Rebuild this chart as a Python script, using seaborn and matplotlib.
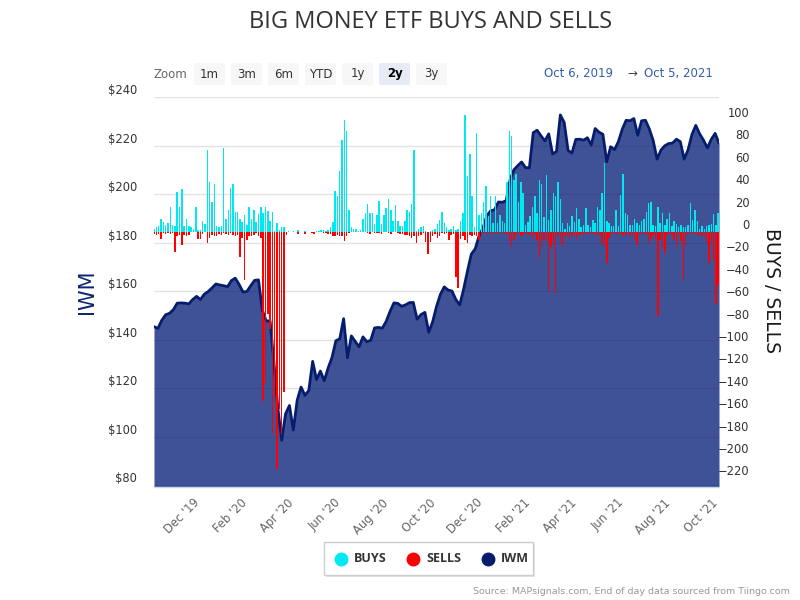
import numpy as np
import pandas as pd
import matplotlib
matplotlib.use("Agg")
import matplotlib.pyplot as plt
from matplotlib.patches import FancyBboxPatch, Rectangle
from matplotlib.lines import Line2D
from matplotlib.transforms import IdentityTransform
import seaborn as sns

# ---------------- data ----------------
START = "2019-10-06"
END = "2021-10-05"

# IWM close, sampled every 5 calendar days from START
iwm_price = [
    145.3, 144.6, 147.9, 150.2, 150.8, 152.3, 155.0, 155.1, 155.0, 154.7,
    156.5, 157.8, 156.5, 158.7, 159.8, 161.3, 162.9, 162.5, 162.2, 161.8,
    164.3, 165.3, 162.7, 159.6, 159.8, 162.2, 164.4, 164.6, 152.0, 147.7,
    147.6, 130.4, 111.8, 98.5, 109.4, 112.8, 102.7, 115.0, 120.4, 117.0,
    119.0, 131.0, 123.5, 127.0, 123.0, 128.3, 132.6, 139.5, 140.3, 148.6,
    132.5, 141.5, 139.2, 137.0, 141.1, 139.1, 139.7, 144.8, 145.0, 144.7,
    147.5, 151.6, 155.1, 154.9, 153.7, 154.3, 155.2, 155.3, 148.4, 150.3,
    151.2, 143.0, 147.3, 153.6, 158.6, 161.7, 160.4, 160.0, 156.5, 154.3,
    160.7, 168.2, 175.2, 177.4, 182.7, 186.0, 191.0, 193.1, 193.5, 196.7,
    196.6, 197.2, 205.8, 210.0, 211.7, 213.2, 210.9, 210.8, 225.3, 226.3,
    224.0, 221.9, 224.8, 216.5, 217.5, 232.6, 229.5, 218.0, 216.9, 222.5,
    222.6, 222.2, 223.2, 220.2, 227.0, 225.5, 224.6, 213.3, 219.5, 218.3,
    221.6, 226.7, 230.4, 230.2, 231.1, 224.2, 230.2, 230.4, 226.8, 222.0,
    214.4, 218.1, 219.9, 220.8, 221.0, 222.6, 221.6, 214.4, 218.2, 224.5,
    228.3, 224.8, 222.2, 219.0, 222.5, 225.0, 221.0,
]

# Big money buys / sells, sampled every 3 calendar days from START
buys = [
    3, 4, 5, 12, 9, 6, 8, 22, 6, 5,
    36, 22, 38, 5, 12, 5, 4, 3, 22, 2,
    2, 10, 7, 73, 45, 27, 43, 5, 4, 5,
    75, 12, 20, 39, 43, 18, 18, 12, 9, 15,
    6, 22, 12, 20, 9, 16, 22, 17, 22, 19,
    10, 18, 1, 8, 2, 4, 4, 0, 0.5, 0,
    1, 0, 2, 0, 0, 1, 0, 0, 0, 0,
    1, 1, 2, 2, 1, 2, 4, 9, 37, 32,
    54, 82, 100, 90, 20, 4, 3, 3, 1, 2,
    12, 17, 25, 17, 17, 7, 15, 28, 7, 15,
    21, 29, 20, 10, 24, 10, 5, 5, 10, 20,
    18, 25, 73, 1, 3, 4, 5, 1, 0, 1,
    2, 3, 7, 11, 18, 8, 4, 2, 3, 5,
    2, 3, 10, 17, 104, 50, 70, 32, 4, 88,
    15, 17, 27, 41, 14, 32, 8, 32, 8, 15,
    10, 8, 45, 90, 86, 46, 52, 27, 45, 35,
    6, 9, 14, 22, 32, 17, 46, 43, 13, 51,
    11, 20, 35, 32, 45, 29, 8, 3, 8, 5,
    14, 9, 21, 12, 4, 6, 21, 6, 4, 11,
    8, 22, 20, 35, 62, 10, 8, 5, 5, 20,
    5, 33, 52, 17, 15, 6, 6, 12, 8, 6,
    10, 12, 18, 26, 27, 6, 5, 22, 8, 17,
    6, 12, 17, 5, 10, 7, 4, 6, 4, 4,
    6, 26, 11, 20, 10, 3, 5, 3, 5, 6,
    7, 16, 6, 17,
]

sells = [
    -2, -3, -2, -6, -1, -2, -1, -2, -1, -18,
    -4, -3, -12, -3, -4, -3, 0, 0, 0, -6,
    -6, -2, 0, -10, -5, -3, -4, -4, -2, -3,
    -1, -2, -3, -1, -3, -4, -3, -22, -5, -43,
    -7, -4, -4, -3, -1, -4, -5, -151, -135, -73,
    -87, -180, -147, -212, -158, -180, -143, -3, 0, 0,
    0, 0, -2, 0, 0, -2, 0, 0, -1, -2,
    0, 0, 0, -1, -1, -2, -2, -4, -4, -3,
    -4, -4, -8, -4, -1, 0, 0, 0, 0, 0,
    0, 0, -1, -2, 0, -1, -1, -1, -2, 0,
    0, -1, -2, 0, 0, -1, -2, -2, -3, -3,
    -4, -5, -4, -10, -4, -3, -1, -9, -20, -9,
    -4, -2, -5, -4, -1, -2, -1, -7, -3, -2,
    -40, -50, -6, -4, -7, -10, -3, -4, -3, -4,
    -7, -4, -1, -1, -1, -2, -1, -1, -2, -1,
    -1, -1, -2, -8, -13, -7, -2, -1, -4, -3,
    -1, -2, -3, -6, -2, -7, -23, -13, -7, -9,
    -53, -13, -9, -55, -4, -10, -13, -4, -3, -6,
    -4, -4, -6, -3, -2, -3, -2, -1, -2, -1,
    -2, -3, -3, -10, -13, -28, -5, -2, -2, -2,
    -3, -2, -3, -4, -2, -4, -3, -7, -12, -3,
    -2, -2, -3, -10, -6, -3, -6, -75, -7, -13,
    -19, -3, -2, -3, -7, -13, -3, -8, -43, -13,
    -3, -1, -2, -1, -3, -4, -4, -5, -10, -28,
    -10, -25, -64, -47,
]

x_tick_dates = ["2019-12-01", "2020-02-01", "2020-04-01", "2020-06-01",
                "2020-08-01", "2020-10-01", "2020-12-01", "2021-02-01",
                "2021-04-01", "2021-06-01", "2021-08-01", "2021-10-01"]
x_tick_labels = ["Dec '19", "Feb '20", "Apr '20", "Jun '20", "Aug '20", "Oct '20",
                 "Dec '20", "Feb '21", "Apr '21", "Jun '21", "Aug '21", "Oct '21"]
left_ticks = [80, 100, 120, 140, 160, 180, 200, 220, 240]
right_ticks = [-220, -200, -180, -160, -140, -120, -100, -80, -60, -40, -20,
               0, 20, 40, 60, 80, 100]

range_buttons = ["1m", "3m", "6m", "YTD", "1y", "2y", "3y"]
selected_button = "2y"

# ---------------- style ----------------
NAVY = "#001873"
NAVY_LINE = "#051d6c"
CYAN = "#00e8f0"
RED = "#ff0000"

sns.set_theme(style="white")
plt.rcParams["font.family"] = ["DejaVu Sans"]

W, H = 800, 600
fig = plt.figure(figsize=(8, 6), dpi=100)
fig.patch.set_facecolor("white")

def fx(x):
    return x / W

def fy(y):
    return 1 - y / H

L, R, T, B = 154, 719, 97, 487
ax = fig.add_axes([fx(L), fy(B), (R - L) / W, (B - T) / H])

iwm_dates = pd.date_range(START, periods=len(iwm_price), freq="5D")
bar_dates = pd.date_range(START, periods=len(buys), freq="3D")
df_iwm = pd.DataFrame({"date": iwm_dates, "IWM": iwm_price})
df_bars = pd.DataFrame({"date": bar_dates, "buys": buys, "sells": sells})

ax.set_axisbelow(True)
ax.yaxis.grid(True, color="#e3e3e3", lw=1)
ax.xaxis.grid(False)
ax.fill_between(df_iwm["date"], df_iwm["IWM"], 0, color=NAVY, alpha=0.75,
                lw=0, zorder=2)
sns.lineplot(data=df_iwm, x="date", y="IWM", ax=ax, color=NAVY_LINE, lw=2.0,
             zorder=3, legend=False)
ax.set_xlim(pd.Timestamp(START), pd.Timestamp(END))
ax.set_ylim(79.2, 240)
ax.set_xlabel("")
ax.set_ylabel("")
ax.set_yticks(left_ticks, [f"${v}" for v in left_ticks], va="bottom")
ax.tick_params(axis="y", length=0, pad=12, labelsize=8.3, labelcolor="#333333")
ax.set_xticks(pd.to_datetime(x_tick_dates))
ax.set_xticklabels(x_tick_labels, rotation=45, ha="right", va="center",
                   rotation_mode="anchor")
ax.tick_params(axis="x", length=9, width=1, color="#ccd6eb", pad=1,
               labelsize=8.3, labelcolor="#666666", direction="out")
for s in ["top", "left", "right"]:
    ax.spines[s].set_visible(False)
ax.spines["bottom"].set_color("#ccd6eb")
ax.spines["bottom"].set_linewidth(1)

ax2 = ax.twinx()
ax2.bar(df_bars["date"], df_bars["buys"], width=1.9, color=CYAN, lw=0, zorder=3)
ax2.bar(df_bars["date"], df_bars["sells"], width=1.9, color=RED, lw=0, zorder=3)
ax2.set_ylim(-227.7, 120.5)
ax2.set_yticks(right_ticks, [f"{v}".replace("-", "\u2212") for v in right_ticks],
               va="bottom", ha="right")
ax2.tick_params(axis="y", length=0, pad=22, labelsize=8.3, labelcolor="#333333")
ax2.grid(False)
for s in ax2.spines.values():
    s.set_visible(False)
ax2.set_xlim(pd.Timestamp(START), pd.Timestamp(END))

# ---------------- titles ----------------
fig.text(fx(431), fy(22), "BIG MONEY ETF BUYS AND SELLS", ha="center",
         va="center", fontsize=17, color="#333333", family="Open Sans")
fig.text(fx(87), fy(292), "IWM", rotation=90, ha="center", va="center",
         fontsize=15, color="#0d2470")
fig.text(fx(772), fy(290), "BUYS / SELLS", rotation=270, ha="center",
         va="center", fontsize=13.5, color="#1a1a1a")

# ---------------- range selector ----------------
ident = IdentityTransform()
fig.text(fx(170), fy(74), "Zoom", ha="center", va="center", fontsize=8.5,
         color="#666666")
btn_x = [194, 231, 268, 305, 342, 379, 416]
for lab, x0 in zip(range_buttons, btn_x):
    sel = lab == selected_button
    p = FancyBboxPatch((x0, H - 85), 31, 22,
                       boxstyle="round,pad=0,rounding_size=2",
                       transform=ident, facecolor="#e6ebf5" if sel else "#f7f7f7",
                       edgecolor="none")
    fig.patches.append(p)
    fig.text(fx(x0 + 15.5), fy(74), lab, ha="center", va="center", fontsize=8.5,
             color="#000000" if sel else "#333333",
             fontweight="bold" if sel else "normal")
fig.text(fx(579), fy(73), "Oct 6, 2019", ha="center", va="center",
         fontsize=8.5, color="#335cad")
fig.text(fx(632), fy(73), "\u2192", ha="center", va="center", fontsize=8.5,
         color="#444444")
fig.text(fx(678), fy(73), "Oct 5, 2021", ha="center", va="center",
         fontsize=8.5, color="#335cad")

# ---------------- legend ----------------
shadow = Rectangle((326, H - 577), 209, 33, transform=ident,
                   facecolor="#e4e4e4", edgecolor="none")
box = Rectangle((324, H - 575), 209, 33, transform=ident,
                facecolor="white", edgecolor="#cccccc", lw=1)
fig.patches.extend([shadow, box])
legend_items = [("BUYS", CYAN, 341, 354), ("SELLS", RED, 413, 426),
                ("IWM", NAVY_LINE, 488, 501)]
for lab, col, cx, tx in legend_items:
    fig.add_artist(Line2D([fx(cx)], [fy(559)], marker="o", ms=9,
                          color=col, lw=0, transform=fig.transFigure))
    fig.text(fx(tx), fy(559), lab, ha="left", va="center", fontsize=9,
             fontweight="bold", color="#333333", family="Open Sans")

fig.text(fx(790), fy(591), "Source: MAPsignals.com, End of day data sourced from Tiingo.com",
         ha="right", va="center", fontsize=6.8, color="#999999")

fig.savefig("out.png", dpi=100, facecolor="white")
